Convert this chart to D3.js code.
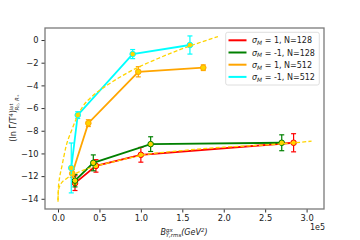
<!DOCTYPE html>
<html>
<head>
<meta charset="utf-8">
<script src="https://cdn.jsdelivr.net/npm/d3@7"></script>
<style>
  body { margin: 0; background: #fff; }
  text { font-family: "DejaVu Sans", sans-serif; fill: #222; }
</style>
</head>
<body>
<div id="container"></div>
<script>
// Hard Code values ---------- ---------- ----------
let canvasW = 360, canvasH = 240;
let plotL = 45, plotR = 324, plotT = 28, plotB = 209;
let gold = "#ffd400";

// Data ---------- ---------- ----------
let names = ["σ|M| = 1, N=128", "σ|M| = -1, N=128", "σ|M| = 1, N=512", "σ|M| = -1, N=512"];
let colors = ["#ff0000", "#008000", "#ffa500", "#00ffff"];
let redX = [0.205, 0.458, 1.0, 2.843], redY = [-12.62, -11.1, -10.12, -9.06], redE = [0.65, 0.55, 0.65, 0.8];
let greenX = [0.205, 0.426, 1.118, 2.70], greenY = [-12.4, -10.83, -9.18, -9.06], greenE = [0.55, 0.7, 0.65, 0.7];
let orangeX = [0.172, 0.366, 0.969, 1.753], orangeY = [-11.77, -7.33, -2.8, -2.44], orangeE = [0.35, 0.3, 0.45, 0.25];
let cyanX = [0.16, 0.238, 0.901, 1.592], cyanY = [-11.28, -6.62, -1.24, -0.44], cyanE = [2.2, 0.3, 0.4, 0.8];
// dashed fit curves
let fitHiX = [0, 0.005, 0.02, 0.045, 0.1, 0.165, 0.226, 0.3, 0.4, 0.5, 0.6, 0.9, 1.2, 1.47, 1.93];
let fitHiY = [-14.1, -13.0, -12.1, -11.2, -9.3, -7.95, -6.85, -5.85, -5.05, -4.45, -3.95, -2.65, -1.65, -0.85, 0.3];
let fitLoX = [0, 0.004, 0.033, 0.105, 0.265, 0.467, 0.75, 1.0, 1.5, 2.0, 2.5, 2.84, 3.06];
let fitLoY = [-14.27, -13.3, -12.7, -12.2, -11.6, -11.1, -10.6, -10.18, -9.75, -9.45, -9.25, -9.07, -8.92];
let xTicks = [0, 0.5, 1.0, 1.5, 2.0, 2.5, 3.0];
let yTicks = [0, -2, -4, -6, -8, -10, -12, -14];

let series = [
  {x: redX, y: redY, e: redE},
  {x: greenX, y: greenY, e: greenE},
  {x: orangeX, y: orangeY, e: orangeE},
  {x: cyanX, y: cyanY, e: cyanE}
];

//Initialize ---------- ---------- ----------
let svg = d3.select("#container").append("svg").attr("width", canvasW).attr("height", canvasH);

let xScale = d3.scaleLinear().domain([-0.157, 3.21]).range([plotL, plotR]);
let yScale = d3.scaleLinear().domain([-14.9, 1.06]).range([plotB, plotT]);

// Axes
svg.append("g").attr("transform", "translate(0," + plotB + ")")
  .call(d3.axisBottom(xScale).tickValues(xTicks).tickSize(3.5).tickPadding(3).tickFormat(d3.format(".1f")))
  .call(g => { g.select(".domain").remove(); g.selectAll("text").attr("font-size", "8.3px").attr("fill", "#222"); g.selectAll("line").attr("stroke", "#333"); });
svg.append("g").attr("transform", "translate(" + plotL + ",0)")
  .call(d3.axisLeft(yScale).tickValues(yTicks).tickSize(3.5).tickPadding(3).tickFormat(d3.format("d")))
  .call(g => { g.select(".domain").remove(); g.selectAll("text").attr("font-size", "8.3px").attr("fill", "#222"); g.selectAll("line").attr("stroke", "#333"); });

// clip for plot area
svg.append("clipPath").attr("id", "clip").append("rect")
  .attr("x", plotL).attr("y", plotT).attr("width", plotR - plotL).attr("height", plotB - plotT);
let plot = svg.append("g").attr("clip-path", "url(#clip)");

let line = d3.line().x(d => xScale(d[0])).y(d => yScale(d[1]));

// Series with error bars
series.forEach((s, k) => {
  let pts = s.x.map((v, i) => [v, s.y[i], s.e[i]]);
  let g = plot.append("g");
  g.append("path").datum(pts).attr("d", line).attr("fill", "none")
    .attr("stroke", colors[k]).attr("stroke-width", 1.8);
  pts.forEach(p => {
    let cx = xScale(p[0]), y1 = yScale(p[1] - p[2]), y2 = yScale(p[1] + p[2]);
    g.append("line").attr("x1", cx).attr("x2", cx).attr("y1", y1).attr("y2", y2)
      .attr("stroke", colors[k]).attr("stroke-width", 1.2);
    [y1, y2].forEach(yy => g.append("line").attr("x1", cx - 2.5).attr("x2", cx + 2.5).attr("y1", yy).attr("y2", yy)
      .attr("stroke", colors[k]).attr("stroke-width", 1.2));
  });
  g.selectAll("circle").data(pts).enter().append("circle")
    .attr("cx", d => xScale(d[0])).attr("cy", d => yScale(d[1])).attr("r", 2.8)
    .attr("fill", gold).attr("stroke", colors[k]).attr("stroke-width", 1);
});

// Dashed fits
let fitLine = d3.line().x(d => xScale(d[0])).y(d => yScale(d[1])).curve(d3.curveMonotoneX);
[[fitHiX, fitHiY], [fitLoX, fitLoY]].forEach(f => {
  plot.append("path").datum(f[0].map((v, i) => [v, f[1][i]]))
    .attr("d", fitLine).attr("fill", "none")
    .attr("stroke", gold).attr("stroke-width", 1.3).attr("stroke-dasharray", "4,2.2");
});

// Spines
svg.append("rect").attr("x", plotL).attr("y", plotT).attr("width", plotR - plotL).attr("height", plotB - plotT)
  .attr("fill", "none").attr("stroke", "#7a7a7a").attr("stroke-width", 1.3);

// Legend
let lg = svg.append("g");
lg.append("rect").attr("x", 225.7).attr("y", 32.3).attr("width", 93.6).attr("height", 52.7).attr("rx", 2)
  .attr("fill", "#fff").attr("fill-opacity", 0.85).attr("stroke", "#d5d5d5").attr("stroke-width", 0.8);
names.forEach((n, i) => {
  let yy = 40.3 + i * 12.2;
  lg.append("line").attr("x1", 228.5).attr("x2", 246.5).attr("y1", yy).attr("y2", yy)
    .attr("stroke", colors[i]).attr("stroke-width", 2);
  let parts = n.split("|");
  let t = lg.append("text").attr("x", 252).attr("y", yy + 3).attr("font-size", "8px");
  t.append("tspan").attr("font-style", "italic").text(parts[0]);
  t.append("tspan").attr("font-style", "italic").attr("font-size", "5.8px").attr("dy", 1.8).text(parts[1]);
  t.append("tspan").attr("dy", -1.8).text(parts[2]);
});

// X label
let xl = svg.append("text").attr("x", 184).attr("y", 235).attr("text-anchor", "middle").attr("font-size", "8px");
xl.append("tspan").attr("font-style", "italic").text("B");
xl.append("tspan").attr("font-style", "italic").attr("font-size", "5.5px").attr("dy", -3).text("gx");
xl.append("tspan").attr("font-style", "italic").attr("font-size", "5.5px").attr("dx", -7).attr("dy", 5).text("Υ,rms");
xl.append("tspan").attr("font-style", "italic").attr("dy", -2).text("(GeV");
xl.append("tspan").attr("font-style", "italic").attr("font-size", "5.5px").attr("dy", -3).text("2");
xl.append("tspan").attr("font-style", "italic").attr("dy", 3).text(")");

// offset text
svg.append("text").attr("x", 325).attr("y", 229.5).attr("text-anchor", "end").attr("font-size", "8px").text("1e5");

// Y label
let yl = svg.append("text").attr("transform", "translate(16," + 118 + ") rotate(-90)")
  .attr("text-anchor", "middle").attr("font-size", "8px");
yl.append("tspan").text("(ln Γ\u0304/T");
yl.append("tspan").attr("font-size", "5.5px").attr("dy", -3).text("4");
yl.append("tspan").attr("dy", 3).text(")");
yl.append("tspan").attr("font-size", "5px").attr("dy", -3.5).text("lat");
yl.append("tspan").attr("font-style", "italic").attr("font-size", "5.5px").attr("dx", -7).attr("dy", 6).text("R₀, R₊");
</script>
</body>
</html>
